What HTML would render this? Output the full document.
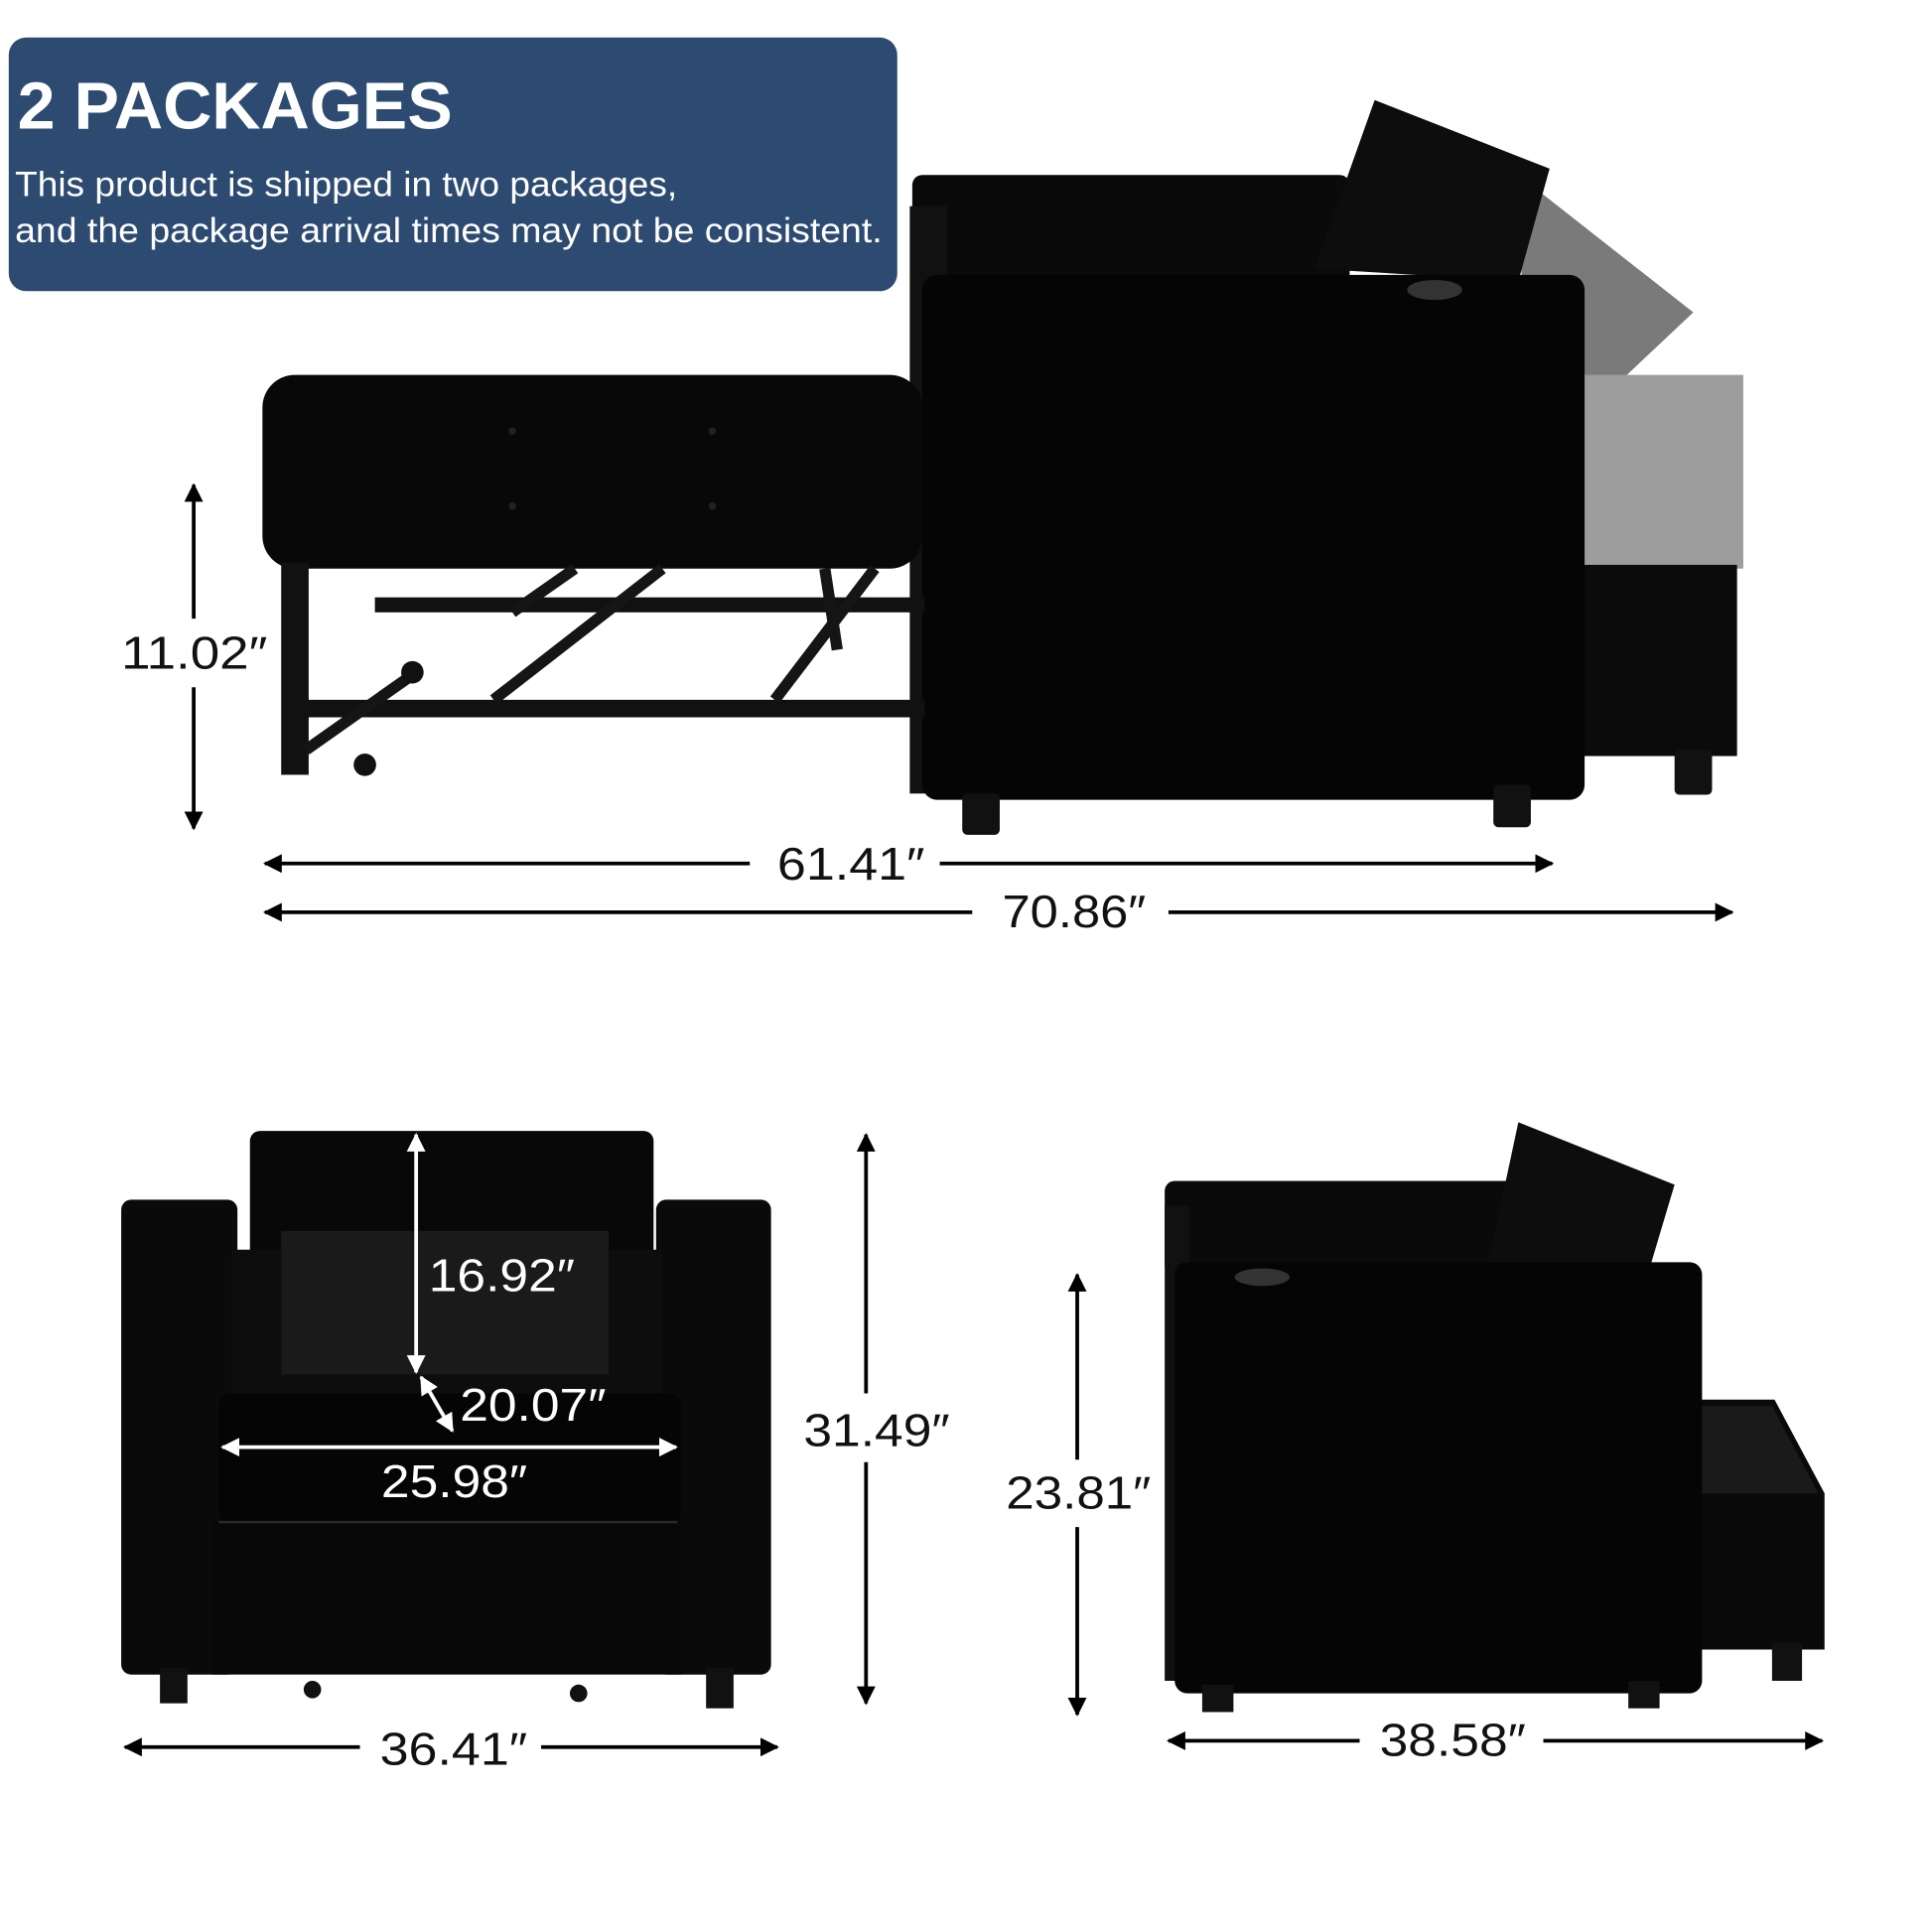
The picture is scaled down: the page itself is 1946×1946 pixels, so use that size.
<!DOCTYPE html>
<html><head><meta charset="utf-8"><style>
html,body{margin:0;padding:0;background:#fff}
svg{display:block}
text{font-family:"Liberation Sans",sans-serif}
</style></head><body>
<svg width="1946" height="1946" viewBox="0 0 1546 1546" xmlns="http://www.w3.org/2000/svg">
<defs>
<marker id="a" viewBox="0 0 10 10" refX="9" refY="5" markerWidth="5" markerHeight="5" orient="auto-start-reverse"><path d="M0,0L10,5L0,10z" fill="#000"/></marker>
<marker id="w" viewBox="0 0 10 10" refX="9" refY="5" markerWidth="5" markerHeight="5" orient="auto-start-reverse"><path d="M0,0L10,5L0,10z" fill="#fff"/></marker>
</defs>
<rect width="1546" height="1546" fill="#fff"/>
<!-- header -->
<rect x="7" y="30" width="711" height="203" rx="14" fill="#2d4a70"/>
<text x="14" y="103" font-size="53" font-weight="bold" fill="#fff" textLength="348" lengthAdjust="spacingAndGlyphs">2 PACKAGES</text>
<text x="12" y="157" font-size="28" fill="#fff" textLength="530" lengthAdjust="spacingAndGlyphs">This product is shipped in two packages,</text>
<text x="12" y="194" font-size="28" fill="#fff" textLength="694" lengthAdjust="spacingAndGlyphs">and the package arrival times may not be consistent.</text>

<!-- top sofa -->
<polygon points="1215,140 1355,250 1270,330 1220,300" fill="#7a7a7a"/>
<rect x="1255" y="300" width="140" height="155" fill="#9d9d9d"/>
<rect x="1250" y="452" width="140" height="153" fill="#0b0b0b"/>
<rect x="1340" y="600" width="30" height="36" rx="4" fill="#111"/>
<rect x="730" y="140" width="350" height="90" rx="8" fill="#0a0a0a"/>
<polygon points="1052,215 1100,80 1240,135 1215,225" fill="#0d0d0d"/>
<rect x="728" y="165" width="30" height="470" fill="#111"/>
<rect x="738" y="220" width="530" height="420" rx="12" fill="#050505"/>
<ellipse cx="1148" cy="232" rx="22" ry="8" fill="#333"/>
<rect x="770" y="635" width="30" height="33" rx="4" fill="#111"/>
<rect x="1195" y="628" width="30" height="34" rx="4" fill="#111"/>
<!-- ottoman -->
<rect x="210" y="300" width="528" height="155" rx="26" fill="#080808"/>
<g fill="#222"><circle cx="410" cy="345" r="3"/><circle cx="570" cy="345" r="3"/><circle cx="410" cy="405" r="3"/><circle cx="570" cy="405" r="3"/></g>
<rect x="225" y="450" width="22" height="170" fill="#111"/>
<rect x="245" y="560" width="495" height="14" fill="#111"/>
<rect x="300" y="478" width="440" height="12" fill="#111"/>
<g stroke="#151515" stroke-width="9">
<line x1="395" y1="560" x2="530" y2="455"/>
<line x1="460" y1="455" x2="410" y2="490"/>
<line x1="620" y1="560" x2="700" y2="455"/>
<line x1="245" y1="600" x2="330" y2="540"/>
<line x1="660" y1="455" x2="670" y2="520"/>
</g>
<circle cx="330" cy="538" r="9" fill="#111"/>
<circle cx="292" cy="612" r="9" fill="#111"/>
<!-- dims -->
<g stroke="#000" stroke-width="3" fill="none">
<line x1="155" y1="388" x2="155" y2="495" marker-start="url(#a)"/>
<line x1="155" y1="550" x2="155" y2="663" marker-end="url(#a)"/>
<line x1="212" y1="691" x2="600" y2="691" marker-start="url(#a)"/>
<line x1="752" y1="691" x2="1242" y2="691" marker-end="url(#a)"/>
<line x1="212" y1="730" x2="778" y2="730" marker-start="url(#a)"/>
<line x1="935" y1="730" x2="1386" y2="730" marker-end="url(#a)"/>
<line x1="693" y1="908" x2="693" y2="1115" marker-start="url(#a)"/>
<line x1="693" y1="1170" x2="693" y2="1363" marker-end="url(#a)"/>
<line x1="100" y1="1398" x2="288" y2="1398" marker-start="url(#a)"/>
<line x1="433" y1="1398" x2="622" y2="1398" marker-end="url(#a)"/>
<line x1="862" y1="1020" x2="862" y2="1168" marker-start="url(#a)"/>
<line x1="862" y1="1222" x2="862" y2="1372" marker-end="url(#a)"/>
<line x1="935" y1="1393" x2="1088" y2="1393" marker-start="url(#a)"/>
<line x1="1235" y1="1393" x2="1458" y2="1393" marker-end="url(#a)"/>
</g>
<g font-size="37" fill="#111" lengthAdjust="spacingAndGlyphs">
<text x="97" y="535" textLength="117" lengthAdjust="spacingAndGlyphs">11.02″</text>
<text x="622" y="704" textLength="118" lengthAdjust="spacingAndGlyphs">61.41″</text>
<text x="802" y="742" textLength="115" lengthAdjust="spacingAndGlyphs">70.86″</text>
<text x="643" y="1157" textLength="117" lengthAdjust="spacingAndGlyphs">31.49″</text>
<text x="304" y="1412" textLength="118" lengthAdjust="spacingAndGlyphs">36.41″</text>
<text x="805" y="1207" textLength="116" lengthAdjust="spacingAndGlyphs">23.81″</text>
<text x="1104" y="1405" textLength="117" lengthAdjust="spacingAndGlyphs">38.58″</text>
</g>

<!-- front view chair -->
<rect x="200" y="905" width="323" height="120" rx="8" fill="#080808"/>
<rect x="97" y="960" width="93" height="380" rx="8" fill="#0a0a0a"/>
<rect x="525" y="960" width="92" height="380" rx="8" fill="#0a0a0a"/>
<rect x="185" y="1000" width="345" height="125" fill="#0d0d0d"/>
<path d="M225,985 L487,985 L487,1100 L225,1100 Z" fill="#1a1a1a"/>
<rect x="175" y="1115" width="370" height="105" rx="10" fill="#050505"/>
<rect x="170" y="1218" width="375" height="122" fill="#080808"/>
<line x1="175" y1="1218" x2="542" y2="1218" stroke="#2a2a2a" stroke-width="2"/>
<rect x="128" y="1335" width="22" height="28" fill="#111"/>
<rect x="565" y="1335" width="22" height="32" fill="#111"/>
<circle cx="250" cy="1352" r="7" fill="#111"/>
<circle cx="463" cy="1355" r="7" fill="#111"/>
<g stroke="#fff" stroke-width="3" fill="none">
<line x1="333" y1="908" x2="333" y2="1098" marker-start="url(#w)" marker-end="url(#w)"/>
<line x1="337" y1="1102" x2="362" y2="1145" marker-start="url(#w)" marker-end="url(#w)"/>
<line x1="178" y1="1158" x2="541" y2="1158" marker-start="url(#w)" marker-end="url(#w)"/>
</g>
<g font-size="37" fill="#fff">
<text x="343" y="1033" textLength="117" lengthAdjust="spacingAndGlyphs">16.92″</text>
<text x="368" y="1137" textLength="117" lengthAdjust="spacingAndGlyphs">20.07″</text>
<text x="305" y="1198" textLength="117" lengthAdjust="spacingAndGlyphs">25.98″</text>
</g>

<!-- side view chair -->
<polygon points="1355,1120 1420,1120 1460,1195 1460,1320 1355,1320" fill="#0a0a0a"/>
<polygon points="1360,1125 1418,1125 1455,1195 1360,1195" fill="#1a1a1a"/>
<rect x="1418" y="1315" width="24" height="30" fill="#111"/>
<rect x="932" y="945" width="285" height="75" rx="8" fill="#0a0a0a"/>
<polygon points="1190,1015 1215,898 1340,948 1320,1015" fill="#0d0d0d"/>
<rect x="932" y="965" width="20" height="380" fill="#111"/>
<rect x="940" y="1010" width="422" height="345" rx="10" fill="#050505"/>
<ellipse cx="1010" cy="1022" rx="22" ry="7" fill="#333"/>
<rect x="962" y="1348" width="25" height="22" fill="#111"/>
<rect x="1303" y="1345" width="25" height="22" fill="#111"/>
</svg>
</body></html>
